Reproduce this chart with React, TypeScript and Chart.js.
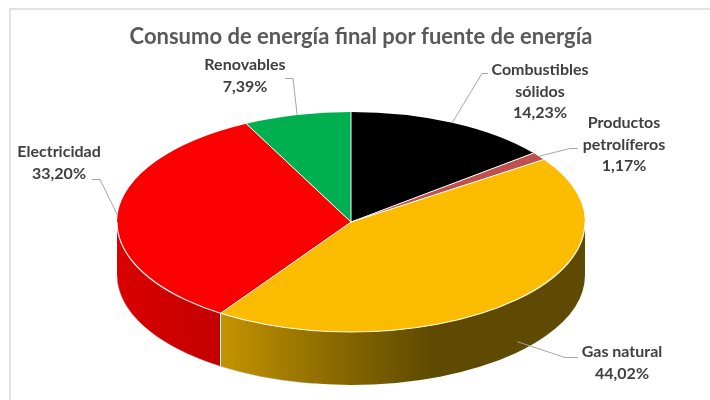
import React, { useEffect, useRef } from "react";
import { Chart, registerables } from "chart.js";

Chart.register(...registerables);

// ---- data ----
const chartTitle = "Consumo de energía final por fuente de energía";
const categories = ["Combustibles sólidos", "Productos petrolíferos", "Gas natural", "Electricidad", "Renovables"];
const labelLines = [["Combustibles", "sólidos"], ["Productos", "petrolíferos"], ["Gas natural"], ["Electricidad"], ["Renovables"]];
const shares = [14.23, 1.17, 44.02, 33.2, 7.39];
const percentLabels = shares.map((v) => v.toFixed(2).replace(".", ",") + "%");

// ---- styles ----
const topColors = ["#000000", "#C0504D", "#FBBC00", "#FA0000", "#00B050"];
const sideStops: [number, string][][] = [
  [[0, "#000000"], [1, "#000000"]],
  [[0, "#903A38"], [1, "#903A38"]],
  [[0, "#C49400"], [0.3, "#8C6B00"], [0.58, "#5E4A00"], [1, "#5E4A00"]],
  [[0, "#DA0000"], [1, "#C20000"]],
  [[0, "#008040"], [1, "#008040"]],
];

// ---- layout ----
const W = 710;
const H = 400;
const CX = 351;
const CY = 222;
const RX = 234;
const RY = 110;
const DEPTH = 53;

// label: center x, first baseline y, leader start, leader elbow
const labelLayout = [
  { x: 540, y: 75, start: [488, 73], elbow: [482, 73] },
  { x: 624, y: 128, start: [578, 148], elbow: [570, 148] },
  { x: 622, y: 357, start: [578, 357], elbow: [565, 357] },
  { x: 59, y: 157, start: [92, 179], elbow: [100, 179] },
  { x: 245, y: 70, start: [285, 78], elbow: [293, 78] },
];

const pie3d = {
  id: "pie3d",
  beforeDatasetsDraw(chart: any) {
    const ctx: CanvasRenderingContext2D = chart.ctx;
    const arcs = chart.getDatasetMeta(0).data;
    const cx = arcs[0].x;
    const cy = arcs[0].y;
    const r = arcs[0].outerRadius;
    arcs.forEach((arc: any, i: number) => {
      const s = Math.max(arc.startAngle, 0);
      const e = Math.min(arc.endAngle, Math.PI);
      if (e <= s) return;
      ctx.beginPath();
      ctx.ellipse(cx, cy, RX, RY, 0, s, e, false);
      ctx.ellipse(cx, cy + DEPTH, RX, RY, 0, e, s, true);
      ctx.closePath();
      const xl = cx + RX * Math.cos(e);
      const xr = cx + RX * Math.cos(s);
      const g = ctx.createLinearGradient(xl, 0, xr, 0);
      sideStops[i].forEach(([p, c]) => g.addColorStop(p, c));
      ctx.fillStyle = g;
      ctx.fill();
    });
    ctx.save();
    ctx.translate(cx, cy);
    ctx.scale(RX / r, RY / r);
    ctx.translate(-cx, -cy);
  },
  afterDatasetsDraw(chart: any) {
    const ctx: CanvasRenderingContext2D = chart.ctx;
    ctx.restore();
    const arcs = chart.getDatasetMeta(0).data;
    const cx = arcs[0].x;
    const cy = arcs[0].y;
    ctx.save();
    ctx.strokeStyle = "#FFFFFF";
    ctx.lineWidth = 1;
    arcs.forEach((arc: any) => {
      const a = arc.startAngle;
      const px = cx + RX * Math.cos(a);
      const py = cy + RY * Math.sin(a);
      ctx.beginPath();
      ctx.moveTo(cx, cy);
      ctx.lineTo(px, py);
      ctx.stroke();
      const an = ((a % (2 * Math.PI)) + 2 * Math.PI) % (2 * Math.PI);
      if (an > 0.02 && an < Math.PI - 0.02) {
        ctx.beginPath();
        ctx.moveTo(px, py);
        ctx.lineTo(px, py + DEPTH);
        ctx.stroke();
      }
    });
    ctx.strokeStyle = "rgba(255,255,255,0.9)";
    ctx.lineWidth = 1.2;
    ctx.beginPath();
    ctx.ellipse(cx, cy, RX, RY, 0, 0, Math.PI, false);
    ctx.stroke();
    ctx.strokeStyle = "rgba(160,160,160,0.5)";
    ctx.lineWidth = 0.8;
    ctx.beginPath();
    ctx.ellipse(cx, cy + DEPTH, RX, RY, 0, Math.PI * 0.55, Math.PI, false);
    ctx.stroke();
    ctx.restore();
  },
  afterDraw(chart: any) {
    const ctx: CanvasRenderingContext2D = chart.ctx;
    const arcs = chart.getDatasetMeta(0).data;
    const cx = arcs[0].x;
    const cy = arcs[0].y;
    ctx.save();
    // frame
    ctx.strokeStyle = "#E2E2E2";
    ctx.lineWidth = 2;
    ctx.strokeRect(10, 9, 900, 600);
    // title
    ctx.fillStyle = "#595959";
    ctx.font = "bold 22px Lato";
    ctx.textAlign = "center";
    ctx.textBaseline = "alphabetic";
    ctx.fillText(chartTitle, 361, 44);
    // leaders
    ctx.strokeStyle = "#A6A6A6";
    ctx.lineWidth = 1;
    arcs.forEach((arc: any, i: number) => {
      const mid = (arc.startAngle + arc.endAngle) / 2;
      const ax = cx + RX * Math.cos(mid);
      let ay = cy + RY * Math.sin(mid);
      const an = ((mid % (2 * Math.PI)) + 2 * Math.PI) % (2 * Math.PI);
      if (an > 0.3 && an < Math.PI - 0.3) ay += DEPTH * 0.8;
      const L = labelLayout[i];
      ctx.beginPath();
      ctx.moveTo(L.start[0], L.start[1] + 0.5);
      ctx.lineTo(L.elbow[0], L.elbow[1] + 0.5);
      ctx.lineTo(ax, ay);
      ctx.stroke();
    });
    // labels
    ctx.fillStyle = "#404040";
    ctx.font = "bold 16px Lato";
    arcs.forEach((_: any, i: number) => {
      const L = labelLayout[i];
      const lines = [...labelLines[i], percentLabels[i]];
      lines.forEach((t, k) => ctx.fillText(t, L.x, L.y + k * 21.5));
    });
    ctx.restore();
  },
};

export default function App() {
  const ref = useRef<HTMLCanvasElement>(null);
  useEffect(() => {
    document.body.style.margin = "0";
    const chart = new Chart(ref.current as HTMLCanvasElement, {
      type: "pie",
      data: {
        labels: categories,
        datasets: [
          {
            data: shares,
            backgroundColor: topColors,
            borderWidth: 0,
            radius: RY,
            clip: false,
            hoverOffset: 0,
          } as any,
        ],
      },
      options: {
        responsive: false,
        animation: false,
        events: [],
        layout: {
          padding: { left: CX - RY, right: W - CX - RY, top: CY - RY, bottom: H - CY - RY },
        },
        plugins: {
          legend: { display: false },
          tooltip: { enabled: false },
          title: { display: false },
        },
      },
      plugins: [pie3d as any],
    });
    return () => chart.destroy();
  }, []);
  return <canvas ref={ref} width={W} height={H} style={{ display: "block", width: W, height: H }} />;
}
